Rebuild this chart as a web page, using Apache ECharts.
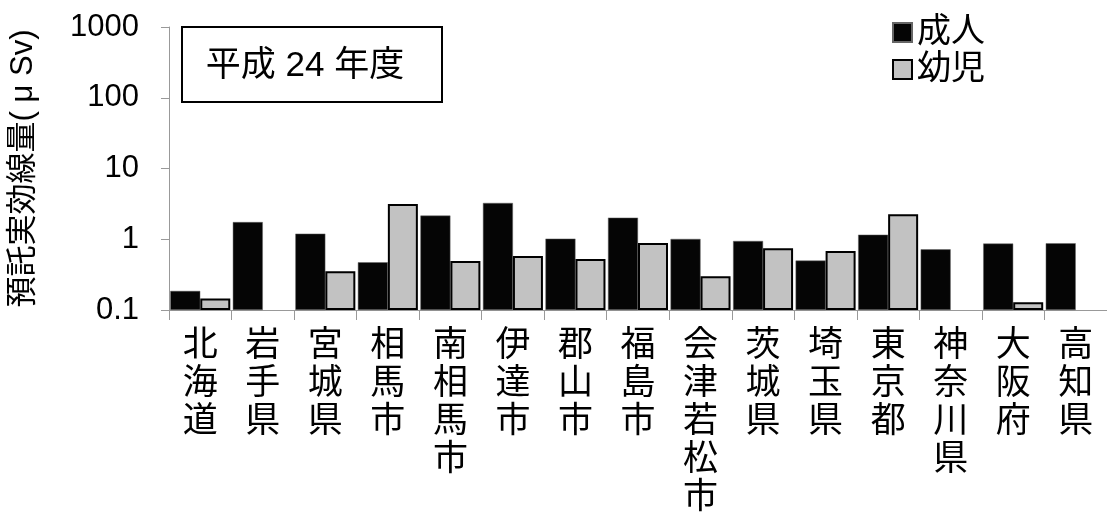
<!DOCTYPE html>
<html>
<head>
<meta charset="utf-8">
<script src="https://cdn.jsdelivr.net/npm/echarts@6/dist/echarts.min.js"></script>
<style>html,body{margin:0;padding:0;background:#fff;}#c{width:1107px;height:517px;}</style>
</head>
<body>
<div id="c"></div>
<script>
var categories = ['北海道','岩手県','宮城県','相馬市','南相馬市','伊達市','郡山市','福島市','会津若松市','茨城県','埼玉県','東京都','神奈川県','大阪府','高知県'];
var adult = [0.186, 1.75, 1.2, 0.473, 2.16, 3.26, 1.02, 2.02, 1.01, 0.946, 0.50, 1.16, 0.72, 0.87, 0.878];
var infant = [0.145, null, 0.353, 3.15, 0.494, 0.58, 0.527, 0.887, 0.30, 0.746, 0.684, 2.25, null, 0.129, null];
var yTicks = ['0.1', '1', '10', '100', '1000'];
var seriesNames = ['成人', '幼児'];
var titleText = '平成 24 年度';
var yName = '預託実効線量( μ Sv)';

// Log scale: bars rise from the axis floor (0.1), so map values to decades above 0.1.
var FLOOR = 0.1;
function toDecades(arr) {
  return arr.map(function (v) { return v == null ? null : { value: Math.log10(v / FLOOR), raw: v }; });
}

var FONT = '"Liberation Sans", "Noto Sans CJK JP", sans-serif';
var chart = echarts.init(document.getElementById('c'));
chart.setOption({
  animation: false,
  backgroundColor: '#fff',
  grid: { left: 163, top: 27, bottom: 207, right: -7, containLabel: false },
  legend: {
    orient: 'vertical', left: 887, top: 9,
    itemWidth: 19, itemHeight: 19, itemGap: 0,
    icon: 'rect',
    textStyle: { fontSize: 34, lineHeight: 37, color: '#000', fontFamily: FONT, padding: [0,0,0,0] },
    data: seriesNames
  },
  graphic: [
    { type: 'rect', shape: { x: 182, y: 27, width: 260, height: 75 },
      style: { fill: '#fff', stroke: '#000', lineWidth: 2 }, z: 10 },
    { type: 'text', z: 11,
      style: { text: titleText, x: 305, y: 66, align: 'center', verticalAlign: 'middle', fontSize: 35, fill: '#000', fontFamily: FONT } }
  ],
  xAxis: {
    type: 'category', data: categories,
    axisLine: { lineStyle: { color: '#999', width: 1 } },
    axisTick: { show: true, length: 10, lineStyle: { color: '#999' } },
    axisLabel: {
      interval: 0, margin: 17, fontSize: 35, lineHeight: 38, color: '#000', fontFamily: FONT,
      formatter: function (v) { return v.split('').join('\n'); }
    }
  },
  yAxis: {
    type: 'value', min: 0, max: 4, interval: 1,
    name: yName, nameLocation: 'middle', nameGap: 130, nameRotate: 90,
    nameTextStyle: { fontSize: 31, color: '#000', fontFamily: FONT },
    axisLine: { show: true, lineStyle: { color: '#999', width: 1 } },
    axisTick: { show: true, length: 8, lineStyle: { color: '#999' } },
    splitLine: { show: false },
    axisLabel: {
      margin: 30, fontSize: 31, color: '#000', fontFamily: FONT,
      formatter: function (v) { return yTicks[Math.round(v)]; }
    }
  },
  series: [
    { name: seriesNames[0], type: 'bar', data: toDecades(adult), barWidth: 30, barGap: '0%',
      itemStyle: { color: '#050505', borderColor: '#666', borderWidth: 0.5 } },
    { name: seriesNames[1], type: 'bar', data: toDecades(infant), barWidth: 30, barGap: '0%',
      itemStyle: { color: '#c2c2c2', borderColor: '#000', borderWidth: 2 } }
  ]
});
</script>
</body>
</html>
